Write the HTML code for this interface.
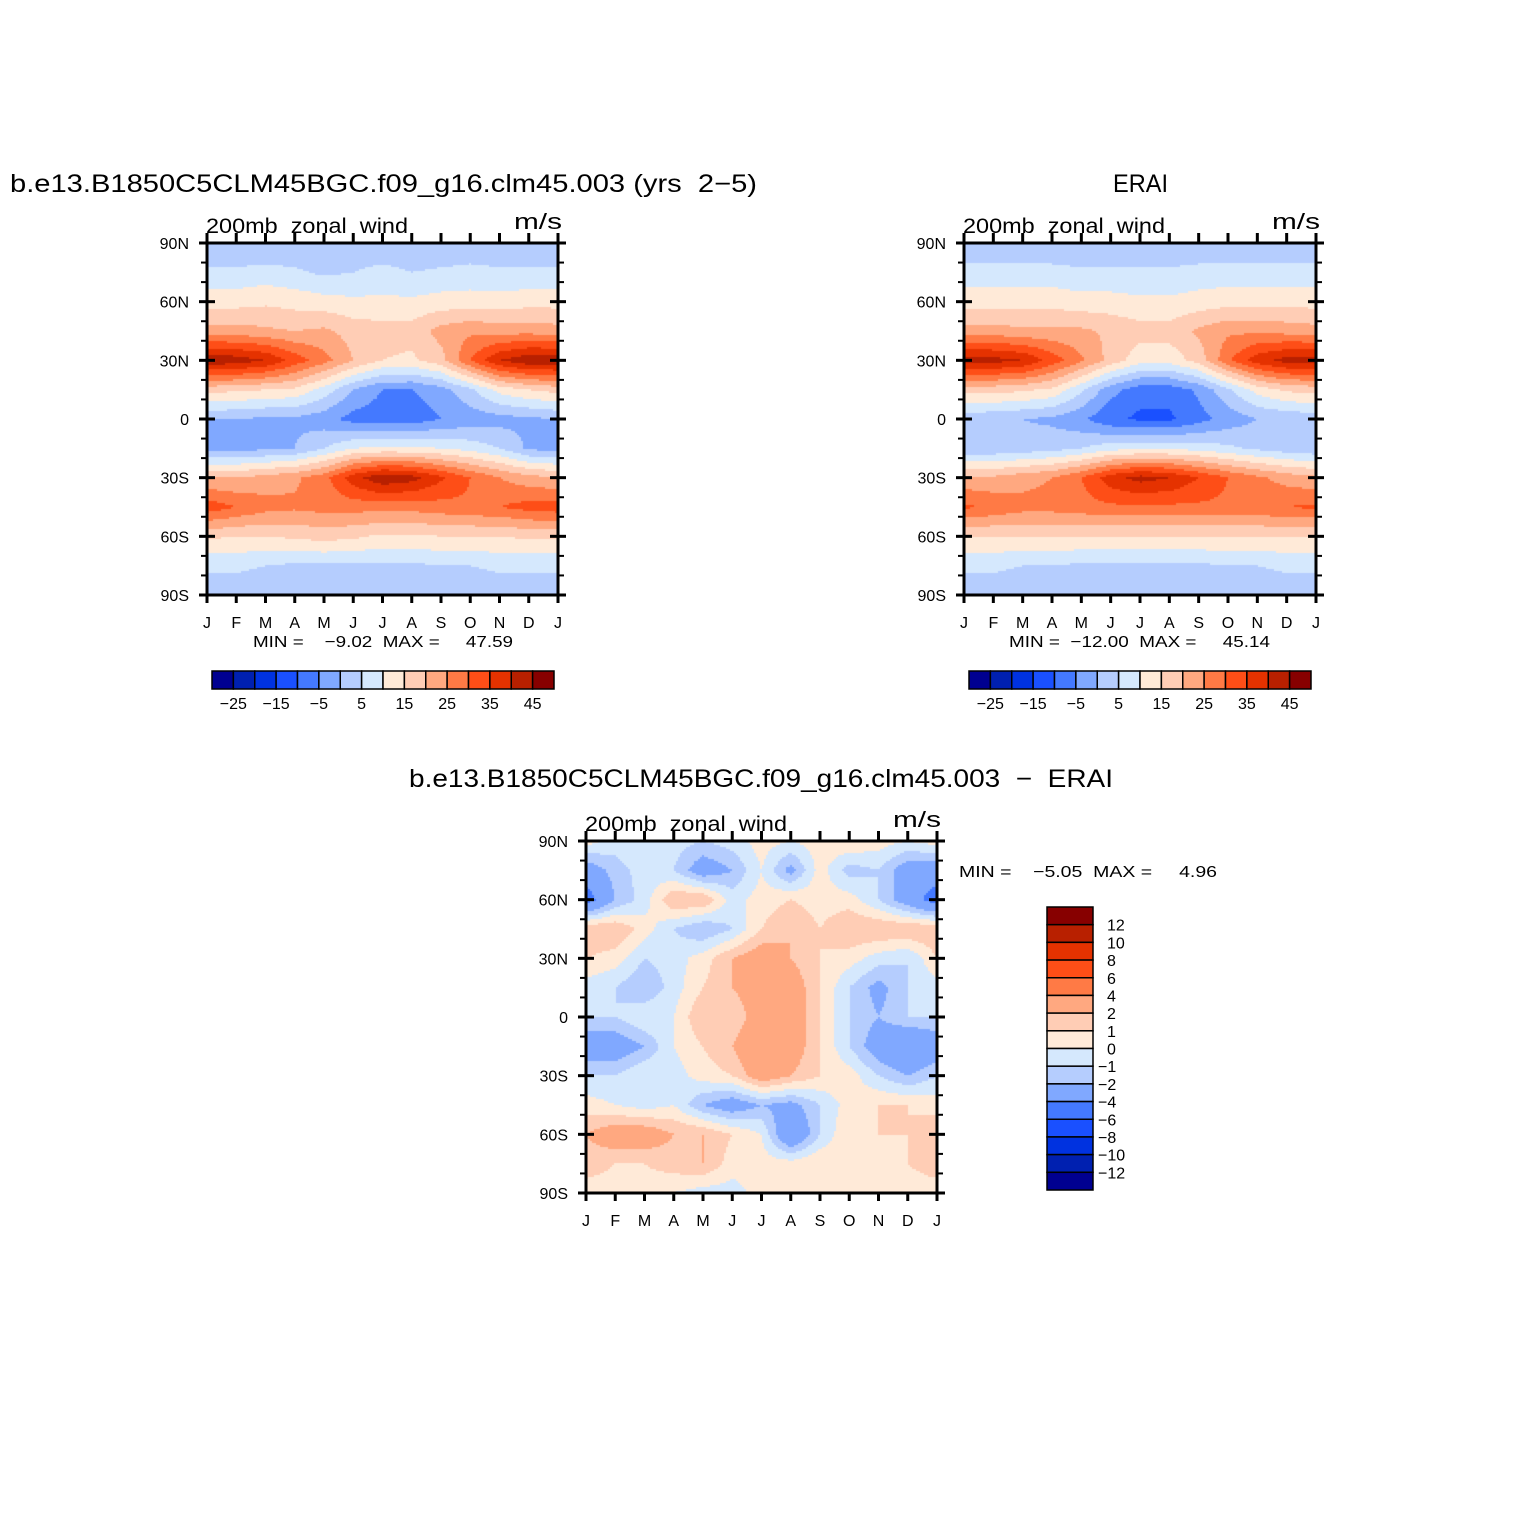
<!DOCTYPE html>
<html><head><meta charset="utf-8">
<style>
body{margin:0;background:#fff;}
#root{position:relative;width:1524px;height:1524px;overflow:hidden;font-family:"Liberation Sans",sans-serif;}
canvas{position:absolute;}
svg{position:absolute;left:0;top:0;}
text{white-space:pre;}
</style></head>
<body>
<div id="root">
<canvas id="c1" style="left:207px;top:243px" width="351" height="352"></canvas>
<canvas id="c2" style="left:964px;top:243px" width="352" height="352"></canvas>
<canvas id="c3" style="left:586px;top:841px" width="351" height="352"></canvas>
<svg id="ov" width="1524" height="1524"></svg>
</div>
<script>
const months=['J','F','M','A','M','J','J','A','S','O','N','D','J'];
const latLabels=['90N','60N','30N','0','30S','60S','90S'];
const colors=['#000090','#0020b0','#0032e0','#1a50ff','#4479ff','#80a8ff','#b5cdfe','#d5e8fd','#ffead8','#ffcdb5','#ffa880','#ff7a45','#fe4e17','#e53200','#b82000','#870000'];
const levelsTop=[-25,-20,-15,-10,-5,0,5,10,15,20,25,30,35,40,45];
const levelsDiff=[-12,-10,-8,-6,-4,-2,-1,0,1,2,4,6,8,10,12];
const topLabels=['-25','-15','-5','5','15','25','35','45'];
// rows: 90N..90S every 15deg; cols: Jan..Dec,Jan
const modelU=[
[0,0,0,0,0,0,0,0,0,0,0,0,0],
[6,6,7,6,4,5,7,5,6,7,6,6,6],
[13,13,14,13,12,11,11,11,12,12,12,13,13],
[22,22,21,20,21,18,17,17,22,24,23,23,22],
[44,43,40,33,27,20,15,14,18,30,40,44,44],
[17,16,15,14,8,0,-5,-5,-2,4,12,15,17],
[0,0,-1,-1,-3,-7,-8,-8,-5,-3,-2,-1,0],
[-2,-2,-1,0,5,10,11,11,10,8,5,-1,-2],
[20,20,22,24,28,38,44,42,36,30,25,22,20],
[33,30,27,26,27,27,27,27,28,29,30,32,33],
[16,15,15,16,17,16,14,14,15,15,15,16,16],
[6,6,5,4,4,4,4,4,5,5,6,6,6],
[2,2,1,1,1,1,1,1,1,1,2,2,2]];
const eraiU=[
[0,0,0,0,0,0,0,0,0,0,0,0,0],
[7,7,7,7,6,6,6,6,7,7,7,7,7],
[13,13,13,13,12,12,11,11,12,13,13,13,13],
[22,22,21,21,21,19,17,17,21,24,24,23,22],
[43,42,40,33,26,18,12,12,17,29,38,42,43],
[17,17,16,14,6,-3,-8,-8,-4,4,12,16,17],
[2,1,0,-1,-4,-9,-11,-11,-7,-3,0,1,2],
[1,1,2,3,5,8,9,9,8,6,4,2,1],
[21,21,23,25,30,38,42,40,35,30,26,23,21],
[31,29,27,27,28,29,29,29,29,29,29,30,31],
[15,15,15,15,15,15,15,15,15,15,15,15,15],
[6,6,5,5,4,4,4,4,4,5,5,6,6],
[2,2,1,1,1,1,1,1,1,1,1,2,2]];
const diffU=[
[0.5,-0.5,0,-0.5,-1,-0.5,0.5,0,0.5,1,0.5,0,0.5],
[-3,-1.5,-0.5,-1,-3,-2,0,-2.5,0.5,-1.5,-1,-3,-3],
[-5,-2,-0.5,2,2,-0.5,0.5,1,0.5,0.5,-1,-3,-5],
[2,2,0.5,-1,-2,-1,1,2,1,2,2,2,2],
[1,0.5,-1,-0.5,0.5,2,3,2,1,0.5,-0.5,-1,1],
[-0.5,-1,-2,-0.5,1,2,3,3,1,-1,-2.5,-1,-0.5],
[-1,-1,0,0,2,1,3,3,1,-1,-2,-1,-1],
[-3,-3,-2,0,1,2,4,3,1,-1,-3,-4,-3],
[-1,-1,0,-0.5,0.5,1,3,2,1,0.5,-1,-2,-1],
[0.5,0,-0.5,0,-2,-3,-2,-2.5,-1,0.5,1,1,0.5],
[2,3,3,2,2,1,0,-4,-1,1,1,1,2],
[1.5,1,1,1.5,2,0.5,0.5,0.5,1,0.5,0.5,1,1.5],
[0.5,0.5,0.5,0,-0.5,-0.5,0.5,0.5,0.5,0.5,0.5,0.5,0.5]];

function sample(g,fx,fy){
  const c=Math.min(11,Math.floor(fx)),r=Math.min(11,Math.floor(fy));
  const tx=fx-c,ty=fy-r;
  const a=g[r][c],b=g[r][c+1],d=g[r+1][c],e=g[r+1][c+1];
  return (a*(1-tx)+b*tx)*(1-ty)+(d*(1-tx)+e*tx)*ty;
}
function lvl(v,levels){let i=0;for(const b of levels){if(v>=b)i++;}return i;}
function drawField(id,g,levels){
  const cv=document.getElementById(id),ctx=cv.getContext('2d');
  const W=cv.width,H=cv.height,s=2;
  for(let y=0;y<H;y+=s)for(let x=0;x<W;x+=s){
    const v=sample(g,(x+1)/W*12,(y+1)/H*12);
    ctx.fillStyle=colors[lvl(v,levels)];ctx.fillRect(x,y,s,s);
  }
}
drawField('c1',modelU,levelsTop);
drawField('c2',eraiU,levelsTop);
drawField('c3',diffU,levelsDiff);

const NS='http://www.w3.org/2000/svg',ov=document.getElementById('ov');
function el(t,a,txt){const e=document.createElementNS(NS,t);for(const k in a)e.setAttribute(k,a[k]);if(txt!==undefined)e.textContent=txt;ov.appendChild(e);return e;}
function axes(L,T,W,H,prefix){
  const f=el('rect',{x:L,y:T,width:W,height:H,fill:'none',stroke:'#000','stroke-width':3});
  
  
  for(let i=0;i<=18;i++){const y=T+H*i/18;const maj=i%3==0;
    el('line',{x1:L-(maj?8:6),x2:L+(maj?8:0),y1:y,y2:y,stroke:'#000','stroke-width':maj?3:2});
    el('line',{x1:L+W-(maj?8:0),x2:L+W+(maj?8:6),y1:y,y2:y,stroke:'#000','stroke-width':maj?3:2});
    if(maj){const t=el('text',{x:L-18,y:y+6,'text-anchor':'end','font-size':16},latLabels[i/3]);
      
      }
  }
  for(let i=0;i<=12;i++){const x=L+W*i/12;
    el('line',{x1:x,x2:x,y1:T-10,y2:T,stroke:'#000','stroke-width':3});
    el('line',{x1:x,x2:x,y1:T+H,y2:T+H+8,stroke:'#000','stroke-width':3});
    const t=el('text',{x:x,y:T+H+33,'text-anchor':'middle','font-size':16},months[i]);
    
    
  }
  const s=el('text',{x:L-1,y:T-10,'font-size':21,textLength:202,lengthAdjust:'spacingAndGlyphs'},'200mb  zonal  wind');
  
  
  const u=el('text',{x:L+W-44,y:T-14,'font-size':22,textLength:48,lengthAdjust:'spacingAndGlyphs'},'m/s');
  
  
}
axes(207,243,351,352,'model');
axes(964,243,352,352,'erai');
axes(586,841,351,352,'diff');

function txt(x,y,s,size,len,name){const t=el('text',{x:x,y:y,'font-size':size,textLength:len,lengthAdjust:'spacingAndGlyphs'},s);
  
  }
txt(10,192,'b.e13.B1850C5CLM45BGC.f09_g16.clm45.003 (yrs  2\u22125)',25,747,'model-title');
txt(1113,192,'ERAI',25,55,'erai-title');
txt(409,787,'b.e13.B1850C5CLM45BGC.f09_g16.clm45.003  \u2212  ERAI',25,704,'diff-title');
txt(253,647,'MIN =    \u22129.02  MAX =     47.59',16,260,'model-min-max');
txt(1009,647,'MIN =  \u221212.00  MAX =     45.14',16,261,'erai-min-max');
txt(959,877,'MIN =    \u22125.05  MAX =     4.96',16,258,'diff-min-max');

function hbar(L,prefix){
  const w=342/16;
  for(let i=0;i<16;i++){const r=el('rect',{x:L+i*w,y:671,width:w,height:18,fill:colors[i],stroke:'#000','stroke-width':1.5});
    
    }
  for(let j=0;j<topLabels.length;j++){const x=L+w*(1+2*j);
    const t=el('text',{x:x,y:709,'font-size':16,'text-anchor':'middle'},topLabels[j].replace('-','\u2212'));
    
    }
}
hbar(212,'model');hbar(969,'erai');
(function(){const T=907,h=283/16;
  for(let i=0;i<16;i++){const r=el('rect',{x:1047,y:T+i*h,width:46,height:h,fill:colors[15-i],stroke:'#000','stroke-width':1.5});
    
    }
  for(let i=0;i<15;i++){const v=levelsDiff[14-i];const y=T+h*(i+1)+6;
    const t=el('text',{x:v<0?1098:1107,y:y,'font-size':16},String(v).replace('-','\u2212'));
    
    }
})();
</script>
</body></html>
